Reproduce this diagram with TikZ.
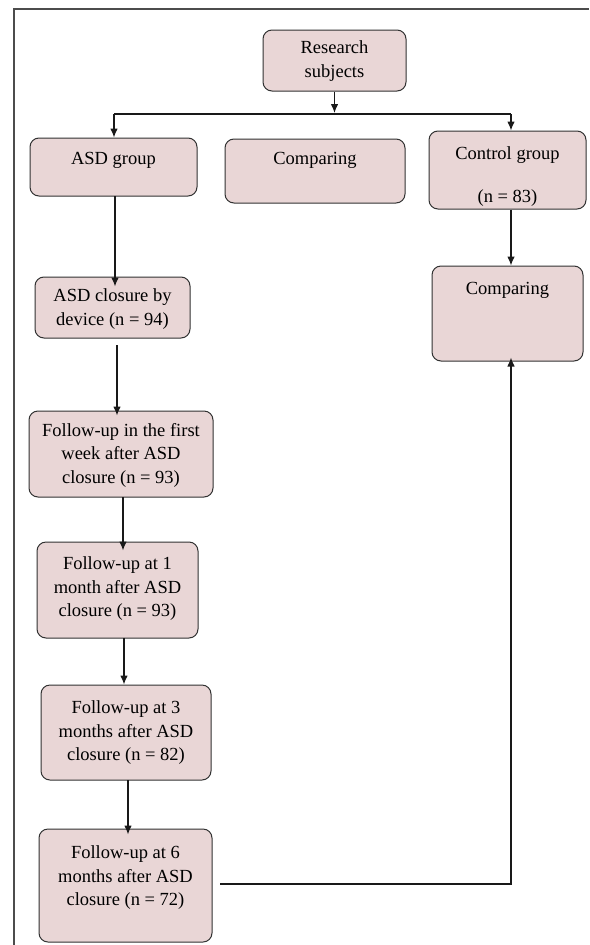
\documentclass[tikz,border=0pt]{standalone}
\usepackage{fontspec}
\setmainfont{Liberation Serif}
\usetikzlibrary{arrows.meta}
\definecolor{boxpink}{RGB}{233,214,214}
\definecolor{edgegray}{RGB}{50,50,50}
\tikzset{
  box/.style={draw=edgegray, fill=boxpink, rounded corners=9pt, line width=1pt, inner sep=0pt},
  txt/.style={align=center, inner sep=0pt, text=black, font=\fontsize{18.5}{23.5}\selectfont},
  arr/.style={draw=black!90, line width=1.1pt, -{Latex[length=9pt,width=7.5pt]}},
  ln/.style={draw=black!90, line width=1.1pt}
}
\begin{document}
\begin{tikzpicture}[x=1pt,y=-1pt]
\useasboundingbox (0,0) rectangle (589,945);
\fill[white] (0,0) rectangle (589,945);
\draw[draw=black!70, line width=1.2pt] (14,945) -- (14,9) -- (589,9);

% boxes
\node[box, minimum width=143pt, minimum height=61pt] (rs) at (334.5,60.5) {};
\node[box, minimum width=167pt, minimum height=58pt] (asd) at (113.5,167) {};
\node[box, minimum width=180pt, minimum height=64pt] (cmpm) at (315,171) {};
\node[box, minimum width=157pt, minimum height=78pt] (ctrl) at (507.5,170) {};
\node[box, minimum width=155pt, minimum height=61pt] (clos) at (112.5,307.5) {};
\node[box, minimum width=151pt, minimum height=95pt] (cmpr) at (507.5,313.5) {};
\node[box, minimum width=184pt, minimum height=86pt] (fw) at (121,454) {};
\node[box, minimum width=161pt, minimum height=96pt] (f1) at (117.5,590) {};
\node[box, minimum width=170pt, minimum height=95pt] (f3) at (126,732.5) {};
\node[box, minimum width=173pt, minimum height=113pt] (f6) at (125.5,885.5) {};

% texts
\node[txt] (trs) at (334.5,61) {Research\\subjects};
\node[txt, anchor=base] (tasd) at (113.5,164) {ASD group};
\node[txt, anchor=base] (tcmpm) at (315,164) {Comparing};
\node[txt, anchor=base] (tctrl) at (507.5,159) {Control group};
\node[txt, anchor=base] (tctrln) at (507.5,202) {(n = 83)};
\node[txt, anchor=base] (tcmpr) at (507.5,294.5) {Comparing};
\node[txt] (tclos) at (112.5,309) {ASD closure by\\device (n = 94)};
\node[txt] (tfw) at (121,455) {Follow-up in the first\\week after ASD\\closure (n = 93)};
\node[txt] (tf1) at (117.5,589) {Follow-up at 1\\month after ASD\\closure (n = 93)};
\node[txt] (tf3) at (126,733) {Follow-up at 3\\months after ASD\\closure (n = 82)};
\node[txt] (tf6) at (125.5,878) {Follow-up at 6\\months after ASD\\closure (n = 72)};

% connectors
\coordinate (split) at (rs.south |- 0,114);
\coordinate (hl) at (114,114);
\coordinate (hr) at (511,114);
\draw[arr] (rs.south) -- ([yshift=1pt]split);
\draw[ln] (hl) -- (hr);
\draw[arr] (hl) -- (hl |- asd.north);
\draw[arr] (hr) -- (hr |- ctrl.north);
\draw[arr] (hr |- ctrl.south) -- (hr |- cmpr.north);

\coordinate (a1) at (115,196);
\draw[arr] (a1) -- ([yshift=-10pt]a1 |- clos.north);
\coordinate (a2) at (117,345);
\draw[arr] (a2) -- ([yshift=-5pt]a2 |- fw.north);
\coordinate (a3) at (123,497);
\draw[arr] (a3) -- ([yshift=-9pt]a3 |- f1.north);
\coordinate (a4) at (124,638);
\draw[arr] (a4) -- (a4 |- f3.north);
\coordinate (a5) at (128,780);
\draw[arr] (a5) -- ([yshift=-6pt]a5 |- f6.north);

\coordinate (b1) at (220,884);
\coordinate (b2) at (511,884);
\draw[arr] (b1) -- (b2) -- ([yshift=4pt]b2 |- cmpr.south);
\end{tikzpicture}
\end{document}
